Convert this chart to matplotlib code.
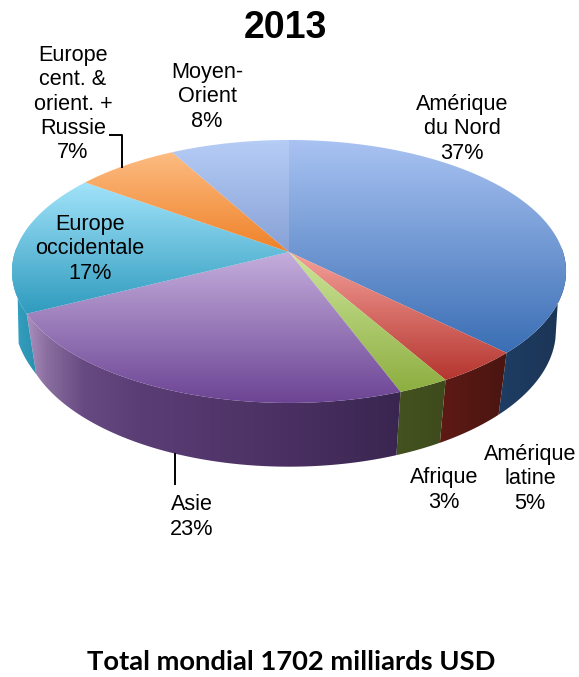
import numpy as np
import matplotlib
matplotlib.use("Agg")
import matplotlib.pyplot as plt
from matplotlib.colors import LinearSegmentedColormap
from matplotlib.patches import Polygon

# Shares by region, clockwise from the top of the pie
regions = ["Amérique du Nord", "Amérique latine", "Afrique", "Asie",
           "Europe occidentale", "Europe cent. & orient. + Russie", "Moyen-Orient"]
shares = [37.4, 4.3, 2.6, 23.3, 17.4, 7, 8]
title = "2013"
footer = "Total mondial 1702 milliards USD"

# label text for each slice
labels = ["Amérique\ndu Nord\n37%", "Amérique\nlatine\n5%", "Afrique\n3%", "Asie\n23%",
          "Europe\noccidentale\n17%", "Europe\ncent. &\norient. +\nRussie\n7%", "Moyen-\nOrient\n8%"]
label_x = [462, 530, 444, 192, 90, 73, 207]
label_y = [129, 479, 490, 517, 249, 104, 97]

# top surface gradient (light to dark, top to bottom)
top_colors = [("#A9C3F2", "#3A6EB4"), ("#F5A09A", "#B5352F"), ("#CDE59A", "#8DAE40"),
              ("#C4AEDC", "#6C4494"), ("#A2E3FA", "#2F9BBE"), ("#FCBC82", "#EF8128"),
              ("#B6CDF6", "#87A1D6")]
# side gradient, left to right
side_colors = [["#1E3D64", "#1B3454"], ["#5E1A15", "#4A1511"], ["#44521F", "#3E4A1C"],
               [(0, "#A98FBE"), (0.05, "#8A6FA0"), (0.15, "#674A82"), (0.3, "#5A3D75"),
                (0.7, "#4A3062"), (1, "#392650")],
               ["#35A3C2", "#2C8FAF"], ["#000000", "#000000"], ["#000000", "#000000"]]

# perspective of the disc
cx = 289
persp = 0.148


def rim(theta, a, b, cy):
    u = np.sin(np.radians(theta))
    v = np.cos(np.radians(theta))
    w = 1 + persp * v
    return np.column_stack([cx + a * u / w, cy - b * v / w])


def top_rim(theta):
    return rim(theta, 274, 128.6, 252)


def bottom_rim(theta):
    # the left end of the lower rim sits a little wider
    v = np.cos(np.radians(theta))
    left = np.sin(np.radians(theta)) < 0
    a = 264 + 10 * np.clip(1 - np.abs(v) / 0.45, 0, 1) * left
    return rim(theta, a, 133.5, 310)


def fill_gradient(ax, pts, colors, vertical=True):
    cmap = LinearSegmentedColormap.from_list("g", colors)
    ramp = np.linspace(0, 1, 256)
    ramp = ramp[:, None] if vertical else ramp[None, :]
    x0, y0 = pts.min(axis=0)
    x1, y1 = pts.max(axis=0)
    im = ax.imshow(ramp, cmap=cmap, extent=[x0, x1, y1, y0], aspect="auto", zorder=2)
    clip = Polygon(pts, closed=True, transform=ax.transData, fc="none", ec="none")
    ax.add_patch(clip)
    im.set_clip_path(clip)


fig = plt.figure(figsize=(5.79, 6.77), dpi=100)
ax = fig.add_axes([0, 0, 1, 1])

edges = np.concatenate([[0], np.cumsum(shares)]) * 3.6

# sides first, only the part that faces us
for i in range(len(shares)):
    t0 = max(edges[i], 88)
    t1 = min(edges[i + 1], 272)
    if t1 <= t0:
        continue
    th = np.linspace(t0, t1, 80)
    # lower rim starts later at the two ends so the outline runs straight down
    b0 = max(t0, 102)
    b1 = min(t1, 256)
    pts = np.vstack([top_rim(th), bottom_rim(np.linspace(b0, b1, 80))[::-1]])
    fill_gradient(ax, pts, side_colors[i], vertical=False)

# then the top surface
for i in range(len(shares)):
    th = np.linspace(edges[i], edges[i + 1], 120)
    pts = np.vstack([[[cx, 252]], top_rim(th)])
    fill_gradient(ax, pts, top_colors[i])

ax.set_xlim(0, 579)
ax.set_ylim(677, 0)
ax.axis("off")

# leader lines
ax.plot([110, 122, 122], [135, 135, 167], color="black", lw=1.4, zorder=3)
ax.plot([175, 175], [454, 484], color="black", lw=1.4, zorder=3)

for lab, x, y in zip(labels, label_x, label_y):
    ax.text(x, y, lab, ha="center", va="center", fontsize=15.6, color="black",
            family="Liberation Sans", linespacing=1.21, zorder=4)

ax.text(285, 28, title, ha="center", va="center", fontsize=27, fontweight="bold",
        family="Liberation Sans")
ax.text(291, 662, footer, ha="center", va="center", fontsize=19.7, fontweight="bold",
        family="Lato")

fig.savefig("out.png", dpi=100)
